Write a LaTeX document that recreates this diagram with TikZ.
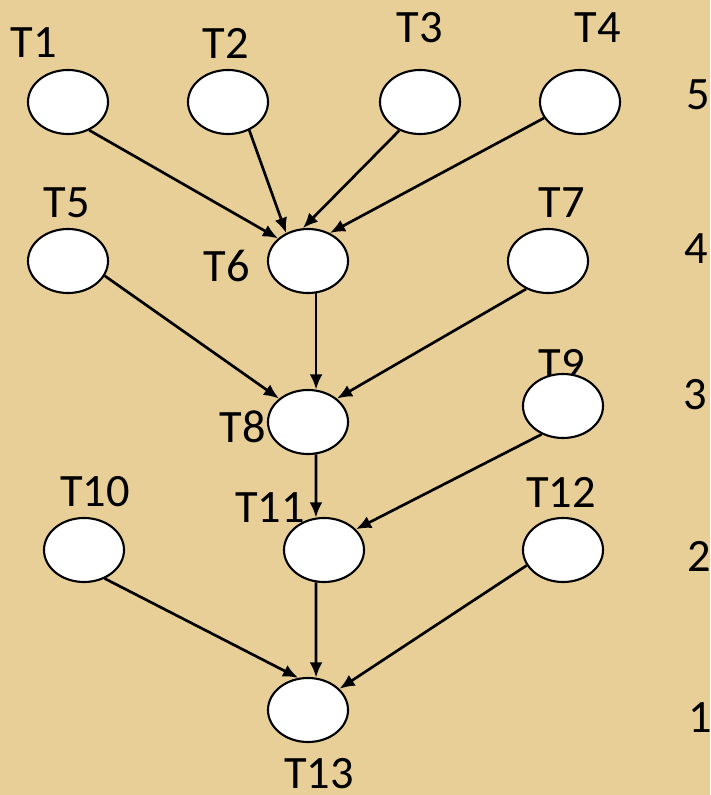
\documentclass[tikz,border=0pt]{standalone}
\usepackage{fontspec}
\setmainfont{Carlito}
\usetikzlibrary{arrows.meta,shapes.geometric}
\definecolor{papyrus}{RGB}{232,207,152}
\begin{document}
\begin{tikzpicture}[task/.style={draw,ellipse,fill=white,line width=1.5pt,minimum width=2cm,minimum height=1.6cm,inner sep=0pt},lbl/.style={inner sep=0pt,font=\fontsize{33}{38}\selectfont},edge/.style={line width=1.9pt,-{Latex[length=0.38cm,width=0.32cm]}},x=0.025cm,y=-0.025cm]
\fill[papyrus] (0,0) rectangle (710,795);
\useasboundingbox (0,0) rectangle (710,795);
\node[lbl] (l1) at (34,43) {T1};
\node[lbl] (l2) at (226,43) {T2};
\node[lbl] (l3) at (420,28) {T3};
\node[lbl] (l4) at (598,28) {T4};
\node[lbl] (l5) at (67,203) {T5};
\node[lbl] (l6) at (227,266) {T6};
\node[lbl] (l7) at (562,203) {T7};
\node[lbl] (l8) at (243,427) {T8};
\node[lbl] (l9) at (562,364) {T9};
\node[lbl] (l10) at (95,492) {T10};
\node[lbl] (l11) at (270,508) {T11};
\node[lbl] (l12) at (561,492) {T12};
\node[lbl] (l13) at (319,774) {T13};
\node[task] (t1) at (68,102) {};
\node[task] (t2) at (228,102) {};
\node[task] (t3) at (420,102) {};
\node[task] (t4) at (580,102) {};
\node[task] (t5) at (68,261) {};
\node[task] (t6) at (308,261) {};
\node[task] (t7) at (548,261) {};
\node[task] (t8) at (308,422) {};
\node[task] (t9) at (563,406) {};
\node[task] (t10) at (84,550) {};
\node[task] (t11) at (324,550) {};
\node[task] (t12) at (563,550) {};
\node[task] (t13) at (308,710) {};
\node[lbl] (n5) at (698,95) {5};
\node[lbl] (n4) at (696,249) {4};
\node[lbl] (n3) at (695,395) {3};
\node[lbl] (n2) at (699,556) {2};
\node[lbl] (n1) at (700,718) {1};
\draw[edge] (t1.-53) -- (t6.143);
\draw[edge] (t2.-53) -- (t6.128);
\draw[edge] (t3.-126) -- (t6.99);
\draw[edge] (t4.-156) -- (t6.52);
\draw[edge] (t5.-22) -- (t8.141);
\draw[edge] (t6.-76) -- (t8.76);
\draw[edge] (t7.-128) -- (t8.39);
\draw[edge] (t8.-76) -- (t11.104);
\draw[edge] (t9.-127) -- (t11.33);
\draw[edge] (t10.-54) -- (t13.107);
\draw[edge] (t11.-104) -- (t13.76);
\draw[edge] (t12.-157) -- (t13.34);
\end{tikzpicture}
\end{document}
